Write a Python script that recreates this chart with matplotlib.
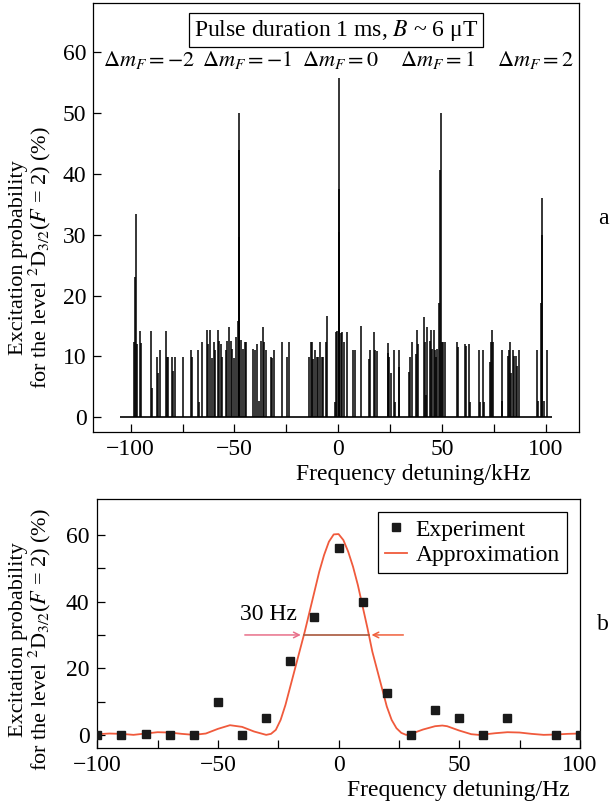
import matplotlib
matplotlib.use("Agg")
import matplotlib.pyplot as plt

plt.rcParams['font.family'] = ['Liberation Serif', 'DejaVu Serif']
plt.rcParams['mathtext.fontset'] = 'stix'

# --- panel a: spectrum of the whole Zeeman pattern (kHz, %) ---
scan_khz = [-105, 103]
spike_khz = [
    -98.6, -97.9, -97.6, -97.1, -95.3, -94.8, -90.3, -89.6, -87.5, -86.6,
    -85.8, -83.1, -82.5, -81.8, -80.0, -79.4, -78.4, -75.0, -71.1, -70.4,
    -67.4, -67.1, -65.4, -63.2, -62.6, -61.9, -60.9, -59.9, -59.3, -58.1,
    -57.4, -56.5, -55.8, -54.2, -53.7, -52.8, -51.8, -51.1, -50.2, -49.2,
    -48.5, -48.0, -47.9, -47.7, -46.9, -45.9, -45.0, -44.3, -40.9, -40.2,
    -38.9, -38.3, -37.4, -36.4, -35.8, -35.0, -32.5, -31.8, -31.0, -27.1,
    -24.9, -23.7,
    -14.0, -13.3, -12.7, -12.0, -11.4, -10.4, -9.8, -8.6, -7.9, -7.2,
    -5.9, -5.3, -1.7, -1.1, -0.5, 0.3, 0.4, 0.6, 1.2, 1.9,
    2.6, 4.1, 7.2, 7.9, 10.9, 14.8, 15.3, 17.3, 17.8, 18.6,
    23.8, 24.2,
    24.5, 25.4, 27.1, 27.3, 29.2, 29.4, 34.0, 34.6, 35.4, 37.3,
    37.9, 38.5, 41.1, 41.6, 42.4, 42.8, 44.0, 44.6, 45.3, 45.9,
    46.6, 47.2, 47.7, 48.4, 49.0, 49.3, 49.8, 50.4, 51.4, 57.3,
    57.6, 61.0, 61.5, 63.1, 63.4, 67.9, 68.2, 69.6, 70.0,
    73.0, 73.7, 74.1, 74.7, 78.7, 79.0, 81.9, 82.4, 82.7, 83.2,
    84.4, 84.9, 85.5, 86.1, 87.2, 95.6, 96.3, 97.5, 98.1, 98.3,
    99.0, 100.4,
]
spike_pct = [
    12.4, 23.0, 33.4, 12.0, 14.2, 12.2, 14.2, 4.8, 9.9, 7.3,
    11.0, 14.2, 9.9, 9.9, 9.9, 7.6, 9.9, 9.9, 11.0, 9.9,
    11.0, 2.5, 12.4, 14.3, 12.0, 14.3, 9.7, 12.4, 11.0, 14.3,
    12.6, 12.0, 9.9, 11.0, 12.6, 14.9, 12.6, 11.2, 9.7, 13.2,
    15.8, 50.0, 44.0, 29.6, 12.7, 11.2, 12.4, 12.4, 11.2, 11.0,
    12.0, 2.7, 12.6, 14.9, 12.4, 11.0, 9.9, 9.7, 11.0, 12.4,
    9.9, 12.4,
    9.9, 12.4, 12.4, 9.6, 11.0, 9.9, 9.9, 12.4, 9.9, 9.9,
    12.4, 16.6, 2.5, 14.0, 14.2, 55.8, 37.6, 30.5, 13.8, 14.0,
    12.4, 14.0, 11.0, 11.0, 15.0, 9.6, 11.0, 14.0, 11.0, 10.8,
    12.2, 10.6,
    9.9, 7.2, 11.0, 2.5, 11.0, 8.2, 7.5, 9.9, 12.4, 10.4,
    14.3, 12.1, 16.5, 12.4, 3.6, 14.9, 12.6, 14.3, 11.2, 14.3,
    11.0, 9.9, 11.2, 18.7, 40.6, 50.0, 12.4, 12.4, 12.4, 12.4,
    11.5, 12.1, 11.7, 12.1, 2.5, 11.0, 2.5, 11.0, 2.5,
    9.1, 12.4, 14.3, 12.4, 11.0, 2.7, 10.1, 11.0, 12.4, 7.2,
    11.0, 10.0, 10.0, 8.4, 11.0, 11.0, 2.7, 18.7, 36.1, 30.0,
    2.7, 11.0,
]
dm_labels = [r'$\Delta m_F = -2$', r'$\Delta m_F = -1$', r'$\Delta m_F = 0$',
             r'$\Delta m_F = 1$', r'$\Delta m_F = 2$']
dm_label_x = [-91, -44, 1, 48, 95]

# --- panel b: central line (Hz, %) ---
exp_hz = [-100, -90, -80, -70, -60, -50, -40, -30, -20, -10,
          0, 10, 20, 30, 40, 50, 60, 70, 90, 100]
exp_pct = [0, 0, 0.2, 0, 0, 10, 0, 5, 22.3, 35.3,
           56, 40, 12.5, 0, 7.5, 5, 0, 5, 0, 0]
fit_hz = [-100, -95, -90, -85, -80, -75, -70, -65, -60, -55,
          -50, -45, -40, -35, -30, -28, -26, -24, -22, -20,
          -18, -16, -14, -12, -10, -8, -6, -4, -2, 0,
          2, 4, 6, 8, 10, 12, 14, 16, 18, 20,
          22, 24, 26, 28, 30, 35, 40, 43, 45, 50,
          55, 58, 60, 65, 70, 75, 80, 85, 90, 95, 100]
fit_pct = [0.2, 0.4, 0.3, 0.0, 0.4, 0.8, 0.7, 0.3, 0.0, 0.4,
           1.8, 2.9, 2.4, 1.0, 0.0, 0.3, 1.5, 4.5, 9.0, 14.5,
           20.0, 25.5, 31.0, 37.0, 43.0, 49.0, 54.0, 58.0, 60.2, 60.3,
           58.5, 55.0, 50.5, 45.0, 38.5, 32.0, 25.0, 19.5, 14.0, 8.5,
           4.5, 2.0, 0.6, 0.0, 0.3, 1.6, 2.6, 2.8, 2.6, 1.3,
           0.2, 0.0, 0.1, 0.5, 0.8, 0.7, 0.3, 0.0, 0.1, 0.3, 0.4]
width_level = 30
width_edges = [-14.5, 12.5]
arrow_tails = [-40, 28]

fig = plt.figure(figsize=(6.11, 8.05), dpi=100)
FS = 17
LFS = 16

def style(ax):
    for s in ax.spines.values():
        s.set_linewidth(0.9)
    ax.tick_params(which='both', direction='in', labelsize=FS, top=False, right=False,
                   width=0.9)
    ax.tick_params(which='major', length=6, pad=5)
    ax.tick_params(which='minor', length=6)

ylab = 'Excitation probability\nfor the level $^2$D$_{3/2}$($F$ = 2) (%)'

ax1 = fig.add_axes([0.153, 0.463, 0.795, 0.533])
ax1.hlines(0, scan_khz[0], scan_khz[1], color='black', lw=1.2)
ax1.vlines(spike_khz, 0, spike_pct, color='black', lw=1.1)
ax1.set_xlim(-117.9, 116.1)
ax1.set_ylim(-2.5, 68.1)
ax1.set_xticks([-100, -50, 0, 50, 100])
ax1.set_xticks([-75, -25, 25, 75], minor=True)
ax1.set_yticks([0, 10, 20, 30, 40, 50, 60])
ax1.set_xticklabels(['\u2212100', '\u221250', '0', '50', '100'])
style(ax1)
ax1.set_xlabel('Frequency detuning/kHz', fontsize=FS)
ax1.xaxis.set_label_coords(0.658, -0.075)
ax1.set_ylabel(ylab, fontsize=LFS, linespacing=0.95, va='center')
ax1.yaxis.set_label_coords(-0.129, 0.406)
ax1.text(0.5, 0.937, 'Pulse duration 1 ms, $B$ ~ 6 \u03bcT', transform=ax1.transAxes,
         ha='center', va='center', fontsize=FS,
         bbox=dict(boxstyle='square,pad=0.2', fc='white', ec='black', lw=0.9))
for lab, xl in zip(dm_labels, dm_label_x):
    ax1.text(xl, 0.867, lab, transform=ax1.get_xaxis_transform(),
             ha='center', va='center', fontsize=16)

ax2 = fig.add_axes([0.158, 0.071, 0.791, 0.309])
ax2.plot(fit_hz, fit_pct, color='#f05a3c', lw=1.3, label='Approximation', zorder=2)
ax2.plot(exp_hz, exp_pct, 's', color='#1a1a1a', ms=6, label='Experiment', zorder=3)
ax2.annotate('', xy=(width_edges[0], width_level), xytext=(arrow_tails[0], width_level),
             arrowprops=dict(arrowstyle='->', color='#e8708a', lw=1.1))
ax2.annotate('', xy=(width_edges[1], width_level), xytext=(arrow_tails[1], width_level),
             arrowprops=dict(arrowstyle='->', color='#f0603c', lw=1.1))
ax2.plot(width_edges, [width_level, width_level], color='#a8583c', lw=1.2)
ax2.text(-41, 33, '30 Hz', fontsize=FS, ha='left', va='bottom')
ax2.set_xlim(-100.3, 100)
ax2.set_ylim(-3.9, 70.8)
ax2.set_xticks([-100, -50, 0, 50, 100])
ax2.set_xticklabels(['\u2212100', '\u221250', '0', '50', '100'])
ax2.set_xticks([-75, -25, 25, 75], minor=True)
ax2.set_yticks([0, 20, 40, 60])
ax2.set_yticks([10, 30, 50], minor=True)
style(ax2)
ax2.set_xlabel('Frequency detuning/Hz', fontsize=FS)
ax2.xaxis.set_label_coords(0.748, -0.13)
ax2.set_ylabel(ylab, fontsize=LFS, linespacing=0.95, va='center')
ax2.yaxis.set_label_coords(-0.135, 0.434)
h, l = ax2.get_legend_handles_labels()
leg = ax2.legend(h[::-1], l[::-1], loc='upper right', fontsize=FS, fancybox=False,
                 edgecolor='black', framealpha=1, labelspacing=0.15, handlelength=0.95,
                 borderpad=0.3, handletextpad=0.35, borderaxespad=0.55)
leg.get_frame().set_linewidth(0.9)

fig.text(0.987, 0.729, 'a', fontsize=FS, ha='center', va='center')
fig.text(0.987, 0.224, 'b', fontsize=FS, ha='center', va='center')

fig.savefig('out.png', dpi=100)
